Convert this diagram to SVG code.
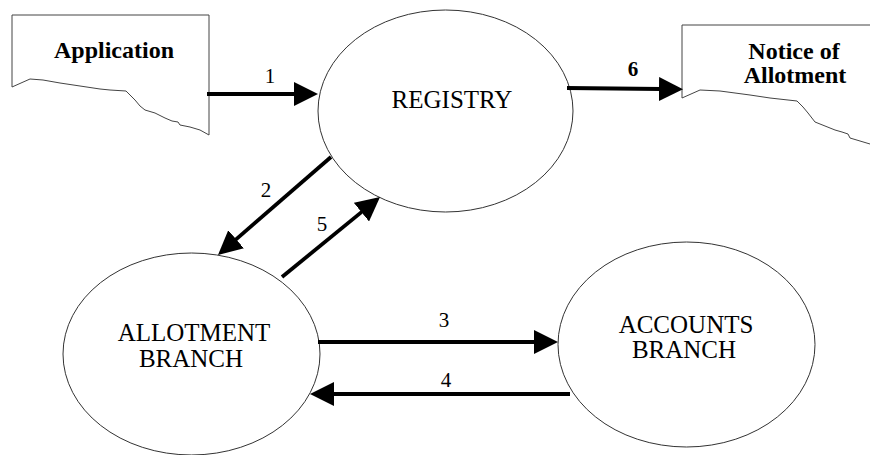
<svg xmlns="http://www.w3.org/2000/svg" width="870" height="455" viewBox="0 0 870 455">
  <style>
    .doc { fill: #ffffff; stroke: #444444; stroke-width: 1; }
    .proc { fill: #ffffff; stroke: #333333; stroke-width: 1; }
    .flow { stroke: #000000; stroke-width: 3.8; fill: none; }
    text { font-family: 'Liberation Serif', 'Times New Roman', Times, 'Nimbus Roman', 'Nimbus Roman No9 L', 'Noto Serif', FreeSerif, Tinos, 'DejaVu Serif', serif; fill: #000000; text-anchor: middle; }
    .label { font-size: 25px; }
    .doclabel { font-size: 24px; font-weight: bold; }
    .num { font-size: 21px; }
  </style>
  <defs>
    <marker id="head" markerUnits="userSpaceOnUse" viewBox="0 0 24 24" markerWidth="24" markerHeight="24" refX="2" refY="12" orient="auto">
      <path d="M0,0 L24,12 L0,24 z" fill="#000000"/>
    </marker>
  </defs>

  <rect width="870" height="455" fill="#ffffff"/>

  <!-- Document: Application -->
  <g id="application">
    <path class="doc" d="M12,15 L209,15 L209,135 L200,130 L190,127 L180,125 L178,122 L172,121 L165,118 L155,113 L145,110 L140,106 L135,100 L130,95 L126,91 L110,90 L100,89 L80,86 L60,83 L43,80 L30,79 L12,87 Z"/>
    <text class="doclabel" x="114" y="58">Application</text>
  </g>

  <!-- Document: Notice of Allotment (runs off the right edge) -->
  <g id="notice">
    <path class="doc" d="M682,25 L872,25 L872,145 L870,144 L860,141 L850,138 L848,134 L842,132 L835,130 L825,126 L815,122 L808,113 L803,107 L797,101 L770,98 L750,95 L720,91 L700,90 L682,98 Z"/>
    <text class="doclabel" x="794" y="59">Notice of</text>
    <text class="doclabel" x="795" y="83">Allotment</text>
  </g>

  <!-- Process: Registry -->
  <g id="registry">
    <ellipse class="proc" cx="445.5" cy="111" rx="127.5" ry="101"/>
    <text class="label" x="452" y="108">REGISTRY</text>
  </g>

  <!-- Process: Allotment Branch -->
  <g id="allotment">
    <ellipse class="proc" cx="191.5" cy="354" rx="128.5" ry="101"/>
    <text class="label" x="194" y="341">ALLOTMENT</text>
    <text class="label" x="191" y="367">BRANCH</text>
  </g>

  <!-- Process: Accounts Branch -->
  <g id="accounts">
    <ellipse class="proc" cx="686.5" cy="344.5" rx="128.5" ry="102.5"/>
    <text class="label" x="686" y="333">ACCOUNTS</text>
    <text class="label" x="684" y="358">BRANCH</text>
  </g>

  <!-- Data flows -->
  <g id="flows">
    <line class="flow" x1="207" y1="94" x2="296" y2="94" marker-end="url(#head)"/>
    <line class="flow" x1="567" y1="88" x2="661" y2="89" marker-end="url(#head)"/>
    <line class="flow" x1="331" y1="157" x2="234.6" y2="240.6" marker-end="url(#head)"/>
    <line class="flow" x1="282" y1="277" x2="363" y2="210.9" marker-end="url(#head)"/>
    <line class="flow" x1="318" y1="342" x2="536" y2="342" marker-end="url(#head)"/>
    <line class="flow" x1="570" y1="394" x2="332" y2="394" marker-end="url(#head)"/>

    <text class="num" x="270" y="83">1</text>
    <text class="num" x="266" y="197">2</text>
    <text class="num" x="444" y="327">3</text>
    <text class="num" x="446" y="387">4</text>
    <text class="num" x="322" y="231">5</text>
    <text class="num" x="633" y="76" font-weight="bold">6</text>
  </g>
</svg>
